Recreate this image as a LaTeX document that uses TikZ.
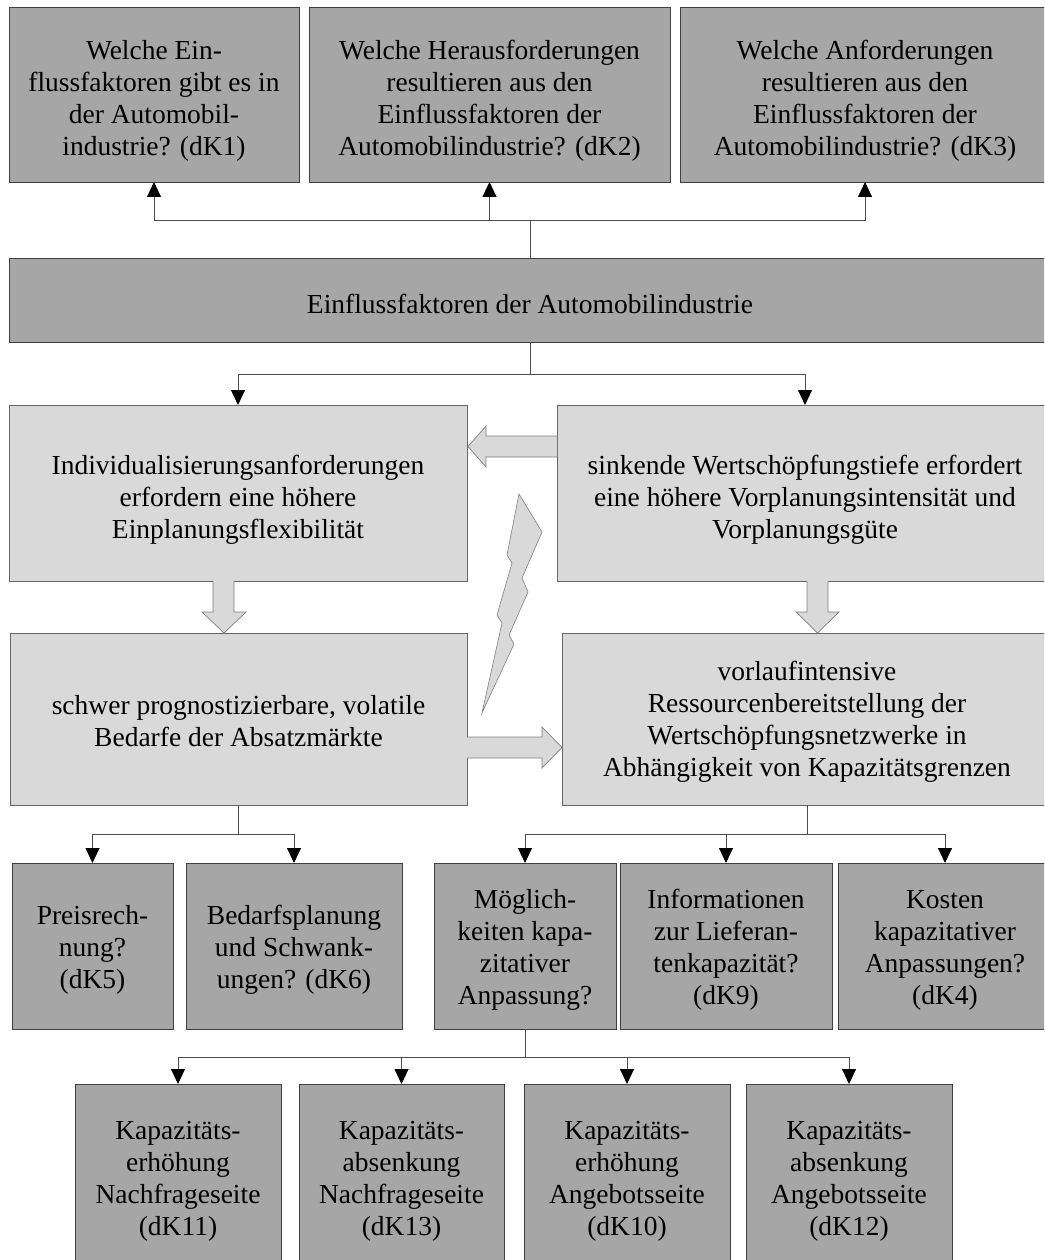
\documentclass[tikz,border=0pt]{standalone}
\usepackage{fontspec}
\setmainfont{Liberation Serif}
\usetikzlibrary{arrows.meta,calc}
\definecolor{qgray}{HTML}{A6A6A6}
\definecolor{lgray}{HTML}{D9D9D9}
\definecolor{edgegray}{HTML}{404040}
% invisible strut that pushes a text block slightly downwards
\newcommand{\liftline}[1]{\rule{0pt}{#1}}
\begin{document}
\begin{tikzpicture}[x=1pt,y=-1pt,
  box/.style={draw=edgegray,line width=0.9pt,inner sep=0pt,outer sep=0pt,
    align=center,font=\fontsize{27.5}{32}\selectfont},
  dark/.style={box,fill=qgray},
  light/.style={box,fill=lgray,draw=black!60},
  conn/.style={draw=black!70,line width=0.9pt},
  arr/.style={conn,-{Triangle[width=14pt,length=15pt,color=black]}},
  blockarrow/.style={fill=lgray,draw=black!50,line width=0.7pt,line join=miter}]
\useasboundingbox (0,0) rectangle (1044,1260);
\clip (0,0) rectangle (1044,1260);

% guiding questions
\node[dark,minimum width=290pt,minimum height=175pt] (q1) at (154,94.5)
  {\liftline{32pt}Welche Ein-\\flussfaktoren gibt es in\\der Automobil-\\industrie? (dK1)};
\node[dark,minimum width=361pt,minimum height=175pt] (q2) at (489.5,94.5)
  {\liftline{32pt}Welche Herausforderungen\\resultieren aus den\\Einflussfaktoren der\\Automobilindustrie? (dK2)};
\node[dark,minimum width=370pt,minimum height=175pt] (q3) at (865,94.5)
  {\liftline{32pt}Welche Anforderungen\\resultieren aus den\\Einflussfaktoren der\\Automobilindustrie? (dK3)};

% central bar
\node[dark,minimum width=1042pt,minimum height=84pt] (main) at (530,300)
  {\liftline{27pt}Einflussfaktoren der Automobilindustrie};

% influence factors
\node[light,minimum width=458pt,minimum height=176pt] (l1) at (238,493)
  {\liftline{33pt}Individualisierungsanforderungen\\erfordern eine höhere\\Einplanungsflexibilität};
\node[light,minimum width=496pt,minimum height=176pt] (r1) at (805,493)
  {\liftline{33pt}sinkende Wertschöpfungstiefe erfordert\\eine höhere Vorplanungsintensität und\\Vorplanungsgüte};
\node[light,minimum width=457pt,minimum height=172pt] (l2) at (238.5,719)
  {\liftline{24pt}schwer prognostizierbare, volatile\\Bedarfe der Absatzmärkte};
\node[light,minimum width=490pt,minimum height=172pt] (r2) at (807,719)
  {\liftline{24pt}vorlaufintensive\\Ressourcenbereitstellung der\\Wertschöpfungsnetzwerke in\\Abhängigkeit von Kapazitätsgrenzen};

% detailed questions
\node[dark,minimum width=161pt,minimum height=166pt] (k5) at (92.5,946)
  {\liftline{27pt}Preisrech-\\nung?\\(dK5)};
\node[dark,minimum width=216pt,minimum height=166pt] (k6) at (294,946)
  {\liftline{27pt}Bedarfsplanung\\und Schwank-\\ungen? (dK6)};
\node[dark,minimum width=182pt,minimum height=166pt] (k7) at (525,946)
  {\liftline{27pt}Möglich-\\keiten kapa-\\zitativer\\Anpassung?};
\node[dark,minimum width=212pt,minimum height=166pt] (k9) at (726,946)
  {\liftline{27pt}Informationen\\zur Lieferan-\\tenkapazität?\\(dK9)};
\node[dark,minimum width=214pt,minimum height=166pt] (k4) at (945,946)
  {\liftline{27pt}Kosten\\kapazitativer\\Anpassungen?\\(dK4)};

% adjustment options
\node[dark,minimum width=206pt,minimum height=190pt] (k11) at (178,1179)
  {\liftline{22pt}Kapazitäts-\\erhöhung\\Nachfrageseite\\(dK11)};
\node[dark,minimum width=205pt,minimum height=190pt] (k13) at (401.5,1179)
  {\liftline{22pt}Kapazitäts-\\absenkung\\Nachfrageseite\\(dK13)};
\node[dark,minimum width=206pt,minimum height=190pt] (k10) at (627,1179)
  {\liftline{22pt}Kapazitäts-\\erhöhung\\Angebotsseite\\(dK10)};
\node[dark,minimum width=206pt,minimum height=190pt] (k12) at (849,1179)
  {\liftline{22pt}Kapazitäts-\\absenkung\\Angebotsseite\\(dK12)};

% junctions of the connector trees
\coordinate (jtop) at (530,220);
\coordinate (jmid) at (530,374);
\coordinate (jl) at (238.5,834);
\coordinate (jr) at (807,834);
\coordinate (jb) at (525,1057);

\draw[conn] (main.north) -- (jtop);
\draw[arr] (jtop) -| (q1.south);
\draw[arr] (jtop) -| (q2.south);
\draw[arr] (jtop) -| (q3.south);

\draw[conn] (main.south) -- (jmid);
\draw[arr] (jmid) -| (l1.north);
\draw[arr] (jmid) -| (r1.north);

\draw[conn] (l2.south) -- (jl);
\draw[arr] (jl) -| (k5.north);
\draw[arr] (jl) -| (k6.north);

\draw[conn] (r2.south) -- (jr);
\draw[arr] (jr) -| (k7.north);
\draw[arr] (jr) -| (k9.north);
\draw[arr] (jr) -| (k4.north);

\draw[conn] (k7.south) -- (jb);
\draw[arr] (jb) -| (k11.north);
\draw[arr] (jb) -| (k13.north);
\draw[arr] (jb) -| (k10.north);
\draw[arr] (jb) -| (k12.north);

% block arrows between the influence factors
\draw[blockarrow] (557,436) -- (486,436) -- (486,426) -- (468,446.5)
  -- (486,467) -- (486,457) -- (557,457);
\draw[blockarrow] (467,737) -- (542,737) -- (542,727) -- (562,747.5)
  -- (542,768) -- (542,758) -- (467,758);
\draw[blockarrow] (213,581) -- (213,612) -- (202,612) -- (224,633)
  -- (246,612) -- (234,612) -- (234,581);
\draw[blockarrow] (807,581) -- (807,612) -- (796,612) -- (817.5,633)
  -- (839,612) -- (828,612) -- (828,581);

% lightning bolt
\draw[blockarrow,line width=0.6pt] (519,494) -- (542,532) -- (522,578) -- (528,592)
  -- (509,635) -- (514,644) -- (482,713) -- (502,623) -- (497,615)
  -- (512,563) -- (507,555) -- cycle;
\end{tikzpicture}
\end{document}
